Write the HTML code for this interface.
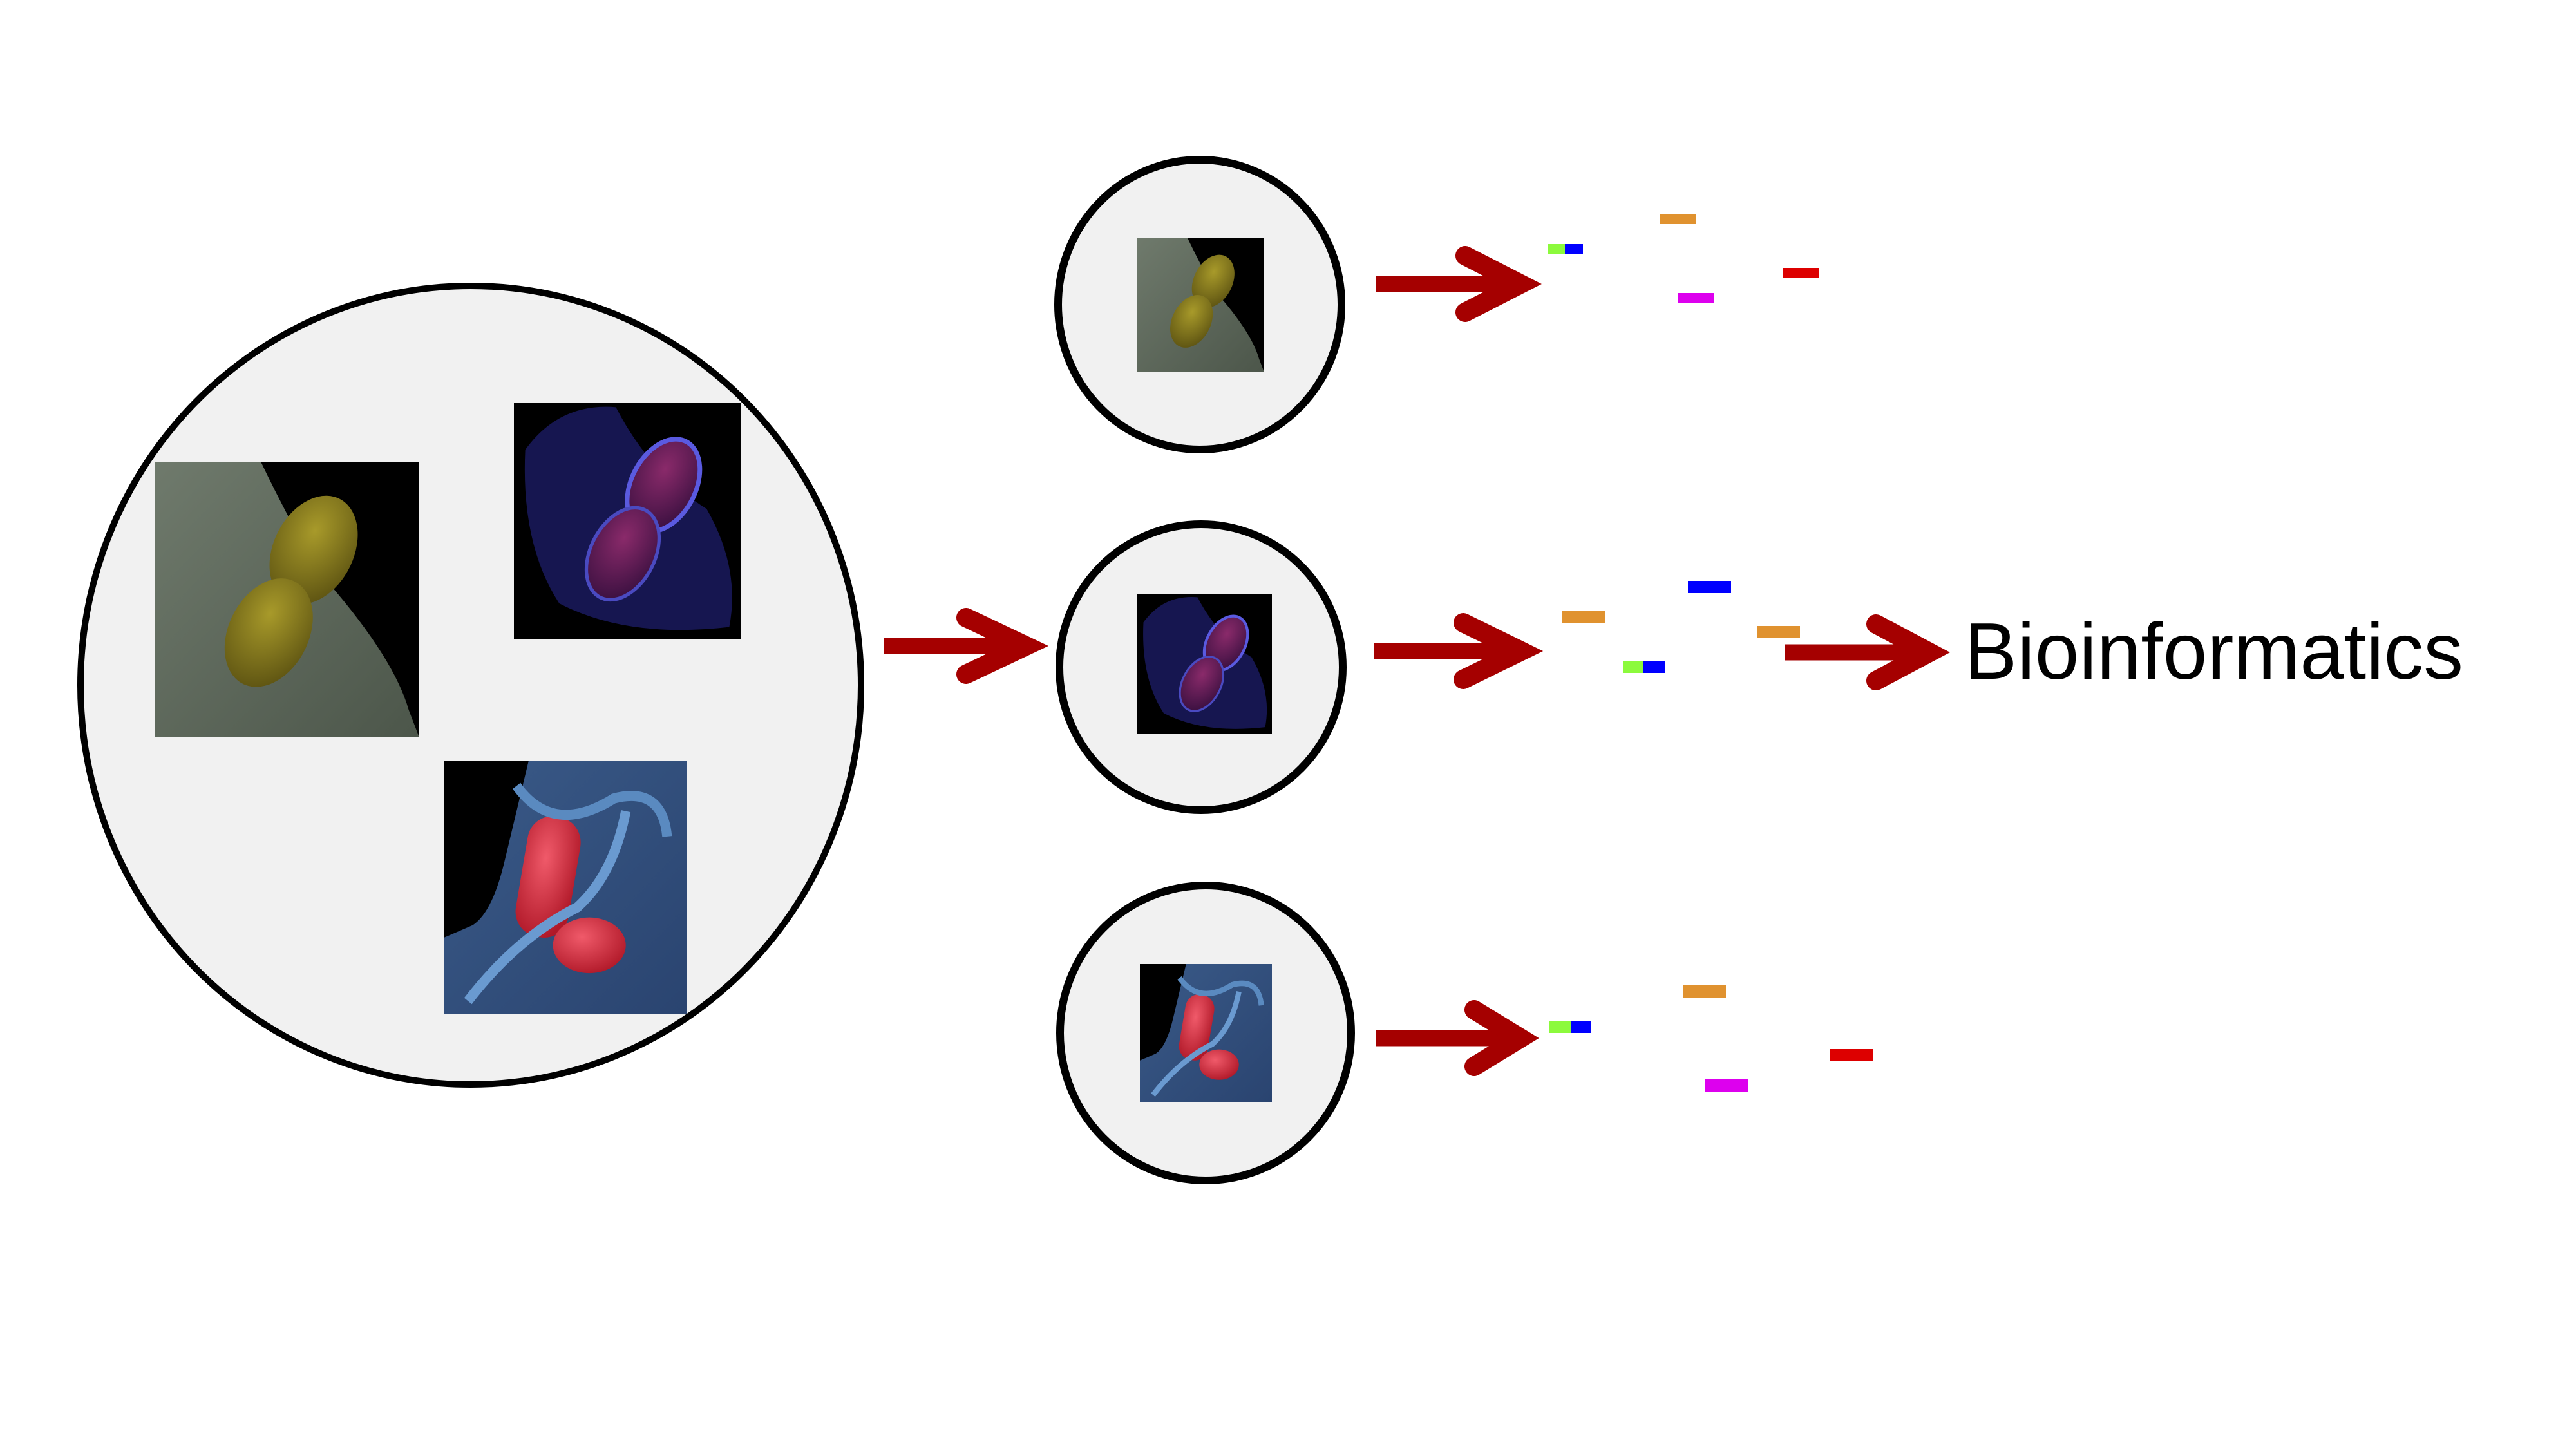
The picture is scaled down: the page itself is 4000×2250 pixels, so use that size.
<!DOCTYPE html>
<html><head><meta charset="utf-8"><style>
html,body{margin:0;padding:0;background:#fff;width:4000px;height:2250px;overflow:hidden}
svg{display:block}
</style></head><body>
<svg id="fig" width="4000" height="2250" viewBox="0 0 4000 2250" xmlns="http://www.w3.org/2000/svg">
<defs>
  <radialGradient id="gYel" cx="40%" cy="35%" r="70%"><stop offset="0" stop-color="#a89a2a"/><stop offset="1" stop-color="#5e5412"/></radialGradient>
  <radialGradient id="gPur" cx="40%" cy="35%" r="70%"><stop offset="0" stop-color="#8a2a6a"/><stop offset="1" stop-color="#3a1040"/></radialGradient>
  <radialGradient id="gRed" cx="40%" cy="35%" r="70%"><stop offset="0" stop-color="#f05a6a"/><stop offset="1" stop-color="#b01828"/></radialGradient>
  <linearGradient id="gGreen" x1="0" y1="0" x2="1" y2="1"><stop offset="0" stop-color="#6f7a6c"/><stop offset="1" stop-color="#4c564a"/></linearGradient>
  <linearGradient id="gBlueBg" x1="0" y1="0" x2="1" y2="1"><stop offset="0" stop-color="#3a5a88"/><stop offset="1" stop-color="#2a4470"/></linearGradient>
  <g id="imgA">
    <rect x="0" y="0" width="100" height="100" fill="#000"/>
    <path d="M0 0 L40 0 Q50 20 62 40 Q90 70 96 90 L100 100 L0 100 Z" fill="url(#gGreen)"/>
    <ellipse cx="60" cy="32" rx="15" ry="21" transform="rotate(30 60 32)" fill="url(#gYel)"/>
    <ellipse cx="43" cy="62" rx="15" ry="21" transform="rotate(30 43 62)" fill="url(#gYel)"/>
  </g>
  <g id="imgB">
    <rect x="0" y="0" width="100" height="100" fill="#000"/>
    <path d="M5 20 Q20 0 45 2 Q60 30 85 45 Q100 70 95 95 Q50 100 20 85 Q3 60 5 20 Z" fill="#161650"/>
    <ellipse cx="66" cy="35" rx="14" ry="21" transform="rotate(30 66 35)" fill="url(#gPur)" stroke="#5a5ae0" stroke-width="2"/>
    <ellipse cx="48" cy="64" rx="14" ry="21" transform="rotate(30 48 64)" fill="url(#gPur)" stroke="#4a4ac0" stroke-width="1.5"/>
  </g>
  <g id="imgC">
    <rect x="0" y="0" width="100" height="100" fill="url(#gBlueBg)"/>
    <path d="M0 0 L35 0 Q30 20 25 40 Q20 60 12 65 L0 70 Z" fill="#000"/>
    <rect x="32" y="22" width="22" height="48" rx="10" transform="rotate(10 43 46)" fill="url(#gRed)"/>
    <ellipse cx="60" cy="73" rx="15" ry="11" fill="url(#gRed)"/>
    <path d="M10 95 Q30 70 55 58 Q70 45 75 20" stroke="#6a9ad0" stroke-width="4" fill="none"/>
    <path d="M30 10 Q45 30 70 15 Q90 10 92 30" stroke="#5a8ac0" stroke-width="4" fill="none"/>
  </g>
</defs>
</svg>
<script>
// marker bar data: [color index, x-start, x-end, y-top, y-bottom]
const markerColors = ['#8cfa3c', '#0000ff', '#e0922f', '#dd0000', '#dd00ee'];
const row1Bars = [[0, 2403, 2430, 379, 395], [1, 2430, 2458, 379, 395], [2, 2577, 2633, 333, 348], [3, 2769, 2824, 416, 432], [4, 2606, 2662, 455, 471]];
const row2Bars = [[2, 2426, 2493, 948, 967], [1, 2621, 2688, 902, 921], [0, 2520, 2552, 1027, 1045], [1, 2552, 2585, 1027, 1045], [2, 2728, 2795, 972, 990]];
const row3Bars = [[0, 2406, 2439, 1585, 1604], [1, 2439, 2471, 1585, 1604], [2, 2613, 2680, 1530, 1549], [3, 2842, 2908, 1629, 1648], [4, 2648, 2715, 1675, 1695]];

const NS = 'http://www.w3.org/2000/svg';
const svg = document.getElementById('fig');
function mk(tag, attrs, parent) {
  const e = document.createElementNS(NS, tag);
  for (const k in attrs) e.setAttribute(k, attrs[k]);
  (parent || svg).appendChild(e);
  return e;
}
function useImg(id, x0, y0, x1, y1, name) {
  const g = mk('g', {transform: `translate(${x0} ${y0}) scale(${(x1 - x0) / 100} ${(y1 - y0) / 100})`});
  
  
  mk('use', {href: '#' + id}, g);
  return g;
}
function ellipse(cx, cy, rx, ry, sw, name) {
  const e = mk('ellipse', {cx, cy, rx, ry, fill: '#f1f1f1', stroke: '#000', 'stroke-width': sw});
  
  
}
function arrow(x0, tip, y, back, half, name) {
  const g = mk('g', {});
  
  
  mk('rect', {x: x0, y: y - 12.5, width: tip - x0 - 20, height: 25, fill: '#a50000'}, g);
  mk('polyline', {points: `${back + 10},${y - half + 12} ${tip - 14},${y} ${back + 10},${y + half - 12}`, fill: 'none', stroke: '#a50000', 'stroke-width': 30, 'stroke-linecap': 'round', 'stroke-linejoin': 'miter'}, g);
}
function bars(list, name) {
  const g = mk('g', {});
  
  
  list.forEach(b => {
    const r = mk('rect', {x: b[1], y: b[3], width: b[2] - b[1], height: b[4] - b[3], fill: markerColors[b[0]]}, g);
    
    
  });
}

ellipse(731, 1064, 606, 620, 10, 'pooled-sample-circle');
useImg('imgA', 241, 717, 651, 1145, 'micrograph-yellow');
useImg('imgB', 798, 625, 1150, 992, 'micrograph-purple');
useImg('imgC', 689, 1181, 1066, 1574, 'micrograph-red');
arrow(1372, 1607, 1003, 1490, 56, 'arrow-to-isolates');

ellipse(1863, 473, 220, 225, 12, 'isolate-circle-1');
useImg('imgA', 1765, 370, 1963, 578, 'isolate-micrograph-1');
ellipse(1865, 1036, 220, 222, 12, 'isolate-circle-2');
useImg('imgB', 1765, 923, 1975, 1140, 'isolate-micrograph-2');
ellipse(1872, 1604, 226, 229, 12, 'isolate-circle-3');
useImg('imgC', 1770, 1497, 1975, 1711, 'isolate-micrograph-3');

arrow(2136, 2375, 441, 2265, 56, 'arrow-sequencing-1');
arrow(2133, 2376, 1011, 2262, 56, 'arrow-sequencing-2');
arrow(2136, 2375, 1612, 2279, 56, 'arrow-sequencing-3');

bars(row1Bars, 'reads-isolate-1');
bars(row2Bars, 'reads-isolate-2');
bars(row3Bars, 'reads-isolate-3');

arrow(2772, 3010, 1013, 2903, 56, 'arrow-to-bioinformatics');
const t = mk('text', {x: 3050, y: 1054, 'font-family': 'Liberation Sans, Arial, sans-serif', 'font-size': 124, fill: '#000', textLength: 775, lengthAdjust: 'spacingAndGlyphs'});


t.textContent = 'Bioinformatics';
</script>
</body></html>
